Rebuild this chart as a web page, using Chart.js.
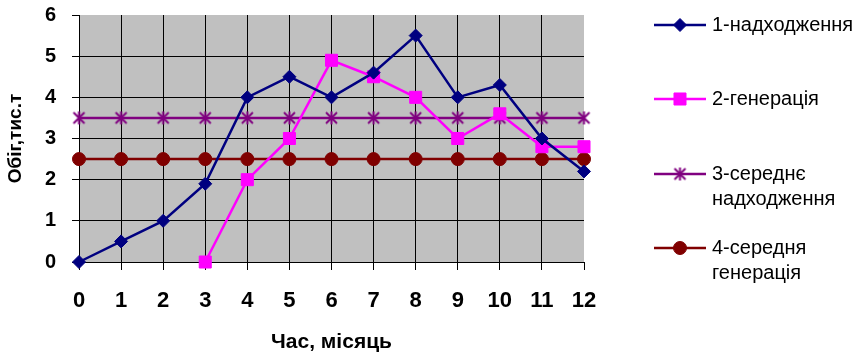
<!DOCTYPE html>
<html>
<head>
<meta charset="utf-8">
<script src="https://cdn.jsdelivr.net/npm/chart.js@4"></script>
<style>
  html, body { margin: 0; padding: 0; background: #fff; }
</style>
</head>
<body>
<canvas id="myChart" width="867" height="355"></canvas>
<script>
// месяцы (ось X)
const months = ['0', '1', '2', '3', '4', '5', '6', '7', '8', '9', '10', '11', '12'];

// ряды данных
const inflow = [0, 0.5, 1, 1.9, 4, 4.5, 4, 4.6, 5.5, 4, 4.3, 3, 2.2];
const generation = [null, null, null, 0, 2, 3, 4.9, 4.5, 4, 3, 3.6, 2.8, 2.8];
const avgInflow = [3.5, 3.5, 3.5, 3.5, 3.5, 3.5, 3.5, 3.5, 3.5, 3.5, 3.5, 3.5, 3.5];
const avgGeneration = [2.5, 2.5, 2.5, 2.5, 2.5, 2.5, 2.5, 2.5, 2.5, 2.5, 2.5, 2.5, 2.5];

const seriesLabels = ['1-надходження', '2-генерація', '3-середнє\nнадходження', '4-середня\nгенерація'];
const yTicks = [0, 1, 2, 3, 4, 5, 6];
const xTitle = 'Час, місяць';
const yTitle = 'Обіг,тис.т';

const FONT = 'Arial, "Liberation Sans", sans-serif';

// звёздочка как в Excel: крест + вертикаль
let makeStar = (color) => {
  const c = document.createElement('canvas');
  c.width = 15;
  c.height = 15;
  const g = c.getContext('2d');
  g.strokeStyle = color;
  g.lineWidth = 2;
  g.beginPath();
  g.moveTo(2, 2); g.lineTo(13, 13);
  g.moveTo(13, 2); g.lineTo(2, 13);
  g.moveTo(7.5, 1); g.lineTo(7.5, 14);
  g.stroke();
  return c;
};

// фон области построения
const plotBg = {
  id: 'plotBg',
  beforeDraw: (chart) => {
    const {ctx, chartArea} = chart;
    ctx.save();
    ctx.fillStyle = '#C0C0C0';
    ctx.fillRect(chartArea.left, chartArea.top, chartArea.right - chartArea.left, chartArea.bottom - chartArea.top);
    ctx.restore();
  }
};

// легенда справа, многострочные подписи
const sideLegend = {
  id: 'sideLegend',
  afterDraw: (chart) => {
    const ctx = chart.ctx;
    const rows = [25, 99, 174, 248];
    ctx.save();
    chart.data.datasets.forEach((ds, i) => {
      const y = rows[i];
      ctx.strokeStyle = ds.borderColor;
      ctx.fillStyle = ds.borderColor;
      ctx.lineWidth = ds.borderWidth;
      ctx.beginPath();
      ctx.moveTo(654, y);
      ctx.lineTo(706, y);
      ctx.stroke();
      ctx.lineWidth = ds.pointBorderWidth;
      Chart.helpers.drawPoint(ctx, {
        pointStyle: ds.pointStyle,
        radius: ds.pointRadius,
        borderWidth: ds.pointBorderWidth
      }, 680, y);
      ctx.fillStyle = '#000';
      ctx.font = '20px ' + FONT;
      ctx.textBaseline = 'middle';
      ds.label.split('\n').forEach((line, k) => {
        ctx.fillText(line, 712, y + k * 25);
      });
    });
    ctx.restore();
  }
};

const makeSet = (label, data, color, style, radius) => ({
  label: label,
  data: data,
  borderColor: color,
  backgroundColor: color,
  borderWidth: 2.5,
  pointStyle: style,
  pointRadius: radius,
  pointBorderWidth: 1,
  pointBorderColor: color,
  pointBackgroundColor: color,
  fill: false,
  tension: 0,
  clip: false
});

const config = {
  type: 'line',
  data: {
    labels: months,
    datasets: [
      makeSet(seriesLabels[0], inflow, '#000080', 'rectRot', 6.5),
      makeSet(seriesLabels[1], generation, '#FF00FF', 'rect', 8.5),
      makeSet(seriesLabels[2], avgInflow, '#800080', makeStar('#800080'), 7),
      makeSet(seriesLabels[3], avgGeneration, '#800000', 'circle', 6.5)
    ]
  },
  options: {
    responsive: false,
    devicePixelRatio: 1,
    animation: false,
    layout: { padding: { top: 15, right: 283, bottom: 0, left: 0 } },
    plugins: {
      legend: { display: false },
      tooltip: { enabled: false }
    },
    scales: {
      x: {
        type: 'category',
        offset: false,
        afterFit: (scale) => { scale.height = 93; },
        border: { color: '#000', width: 1 },
        grid: {
          color: (c) => c.index === months.length - 1 ? 'rgba(0,0,0,0)' : '#000',
          tickColor: '#000',
          tickLength: 8,
          lineWidth: 1
        },
        ticks: {
          color: '#000',
          padding: 18,
          maxRotation: 0,
          font: { family: FONT, size: 22, weight: 'bold' }
        },
        title: {
          display: true,
          text: xTitle,
          color: '#000',
          padding: { top: 0, bottom: 0 },
          font: { family: FONT, size: 21, weight: 'bold' }
        }
      },
      y: {
        min: 0,
        max: 6,
        afterFit: (scale) => {
          scale.width = 79;
          scale.paddingTop = 0;
          scale.paddingBottom = 0;
        },
        afterBuildTicks: (scale) => { scale.ticks = yTicks.map(v => ({value: v})); },
        border: { color: '#000', width: 1 },
        grid: {
          color: (c) => c.tick && c.tick.value === 6 ? 'rgba(0,0,0,0)' : '#000',
          tickColor: '#000',
          tickLength: 7,
          lineWidth: 1
        },
        ticks: {
          color: '#000',
          padding: 16,
          font: { family: FONT, size: 20, weight: 'bold' }
        },
        title: {
          display: true,
          text: yTitle,
          color: '#000',
          padding: { top: 4, bottom: 0 },
          font: { family: FONT, size: 19, weight: 'bold' }
        }
      }
    }
  },
  plugins: [plotBg, sideLegend]
};

const chart = new Chart(document.getElementById('myChart'), config);
</script>
</body>
</html>
